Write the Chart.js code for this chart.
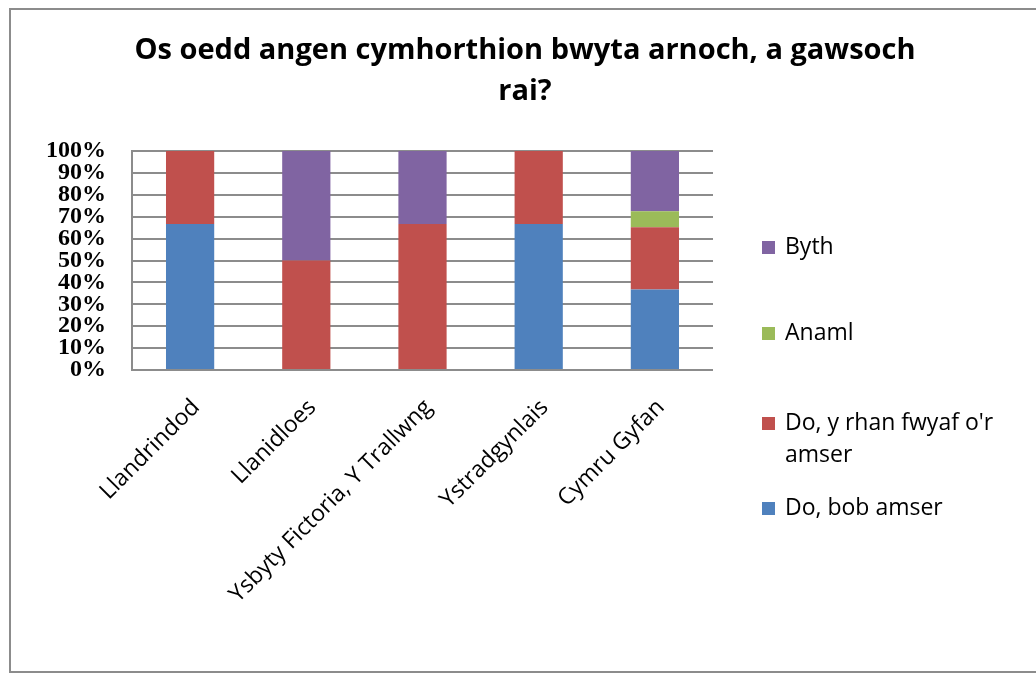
<!DOCTYPE html>
<html>
<head>
<meta charset="utf-8">
<script src="https://cdn.jsdelivr.net/npm/chart.js@4.4.1/dist/chart.umd.min.js"></script>
<style>
  html, body { margin: 0; padding: 0; background: #fff; }
  #wrap { position: relative; width: 1036px; height: 675px; }
  #frame { position: absolute; left: 9px; top: 8px; width: 1030px; height: 665px;
           border: 2px solid #8c8c8c; box-sizing: border-box; }
  canvas { position: absolute; left: 0; top: 0; }
</style>
</head>
<body>
<div id="wrap">
  <div id="frame"></div>
  <canvas id="myChart" width="1036" height="675"></canvas>
</div>
<script>
document.addEventListener("DOMContentLoaded", function () {
  // Categories and series (percent of each bar)
  var categories = [
    "Llandrindod",
    "Llanidloes",
    "Ysbyty Fictoria, Y Trallwng",
    "Ystradgynlais",
    "Cymru Gyfan",
  ];
  var bobAmser = [66.7, 0, 0, 66.7, 36.8];
  var rhanFwyaf = [33.3, 50, 66.7, 33.3, 28.4];
  var anaml = [0, 0, 0, 0, 7.3];
  var byth = [0, 50, 33.3, 0, 27.5];
  var yTicks = [0, 10, 20, 30, 40, 50, 60, 70, 80, 90, 100];
  var titleLines = ["Os oedd angen cymhorthion bwyta arnoch, a gawsoch", "rai?"];

  var data = {
    labels: categories,
    datasets: [
      { label: "Do, bob amser", data: bobAmser, backgroundColor: "#4F81BD" },
      { label: ["Do, y rhan fwyaf o'r", "amser"], data: rhanFwyaf, backgroundColor: "#C0504D" },
      { label: "Anaml", data: anaml, backgroundColor: "#9BBB59" },
      { label: "Byth", data: byth, backgroundColor: "#8064A2" },
    ],
  };
  data.datasets.forEach(function (ds) {
    ds.barPercentage = 0.415;
    ds.categoryPercentage = 1;
    ds.borderWidth = 0;
  });

  // Title centred on the whole frame, legend on the right (Excel style, reversed)
  var decorPlugin = {
    id: "decor",
    afterDraw: function (chart) {
      var ctx = chart.ctx;
      ctx.save();
      ctx.fillStyle = "#000";
      ctx.textAlign = "center";
      ctx.textBaseline = "middle";
      ctx.font = "bold 29px 'Open Sans'";
      ctx.fillText(titleLines[0], 525, 51);
      ctx.fillText(titleLines[1], 525, 92);

      var rows = [
        { i: 3, y: 247 },
        { i: 2, y: 333 },
        { i: 1, y: 423 },
        { i: 0, y: 508 },
      ];
      ctx.textAlign = "left";
      ctx.font = "23px 'Open Sans'";
      rows.forEach(function (r) {
        var ds = chart.data.datasets[r.i];
        ctx.fillStyle = ds.backgroundColor;
        ctx.fillRect(762, r.y - 6, 13, 13);
        ctx.fillStyle = "#000";
        var lines = Array.isArray(ds.label) ? ds.label : [ds.label];
        lines.forEach(function (t, k) {
          ctx.fillText(t, 785, r.y + k * 32);
        });
      });
      ctx.restore();
    },
  };

  var options = {
    responsive: false,
    animation: false,
    layout: { padding: { left: 0, right: 323, top: 151, bottom: 0 } },
    scales: {
      x: {
        stacked: true,
        grid: { display: false },
        border: { display: false },
        ticks: {
          color: "#000",
          font: { family: "Open Sans", size: 23 },
          maxRotation: 45,
          minRotation: 45,
          autoSkip: false,
          padding: 16,
          labelOffset: 6,
        },
        afterFit: function (scale) { scale.height = 305; },
      },
      y: {
        stacked: true,
        min: 0,
        max: 100,
        afterBuildTicks: function (scale) {
          scale.ticks = yTicks.map(function (v) { return { value: v }; });
        },
        grid: { color: "#8c8c8c", lineWidth: 2, drawTicks: false },
        border: { color: "#8c8c8c", width: 2 },
        ticks: {
          color: "#000",
          font: { family: "Liberation Serif", size: 24, weight: "bold" },
          autoSkip: false,
          padding: 26,
          callback: function (v) { return v + "%"; },
        },
        afterFit: function (scale) { scale.width = 132; },
      },
    },
    plugins: {
      legend: { display: false },
      tooltip: { enabled: false },
      title: { display: false },
    },
  };

  var ctx = document.getElementById("myChart").getContext("2d");
  var myChart = new Chart(ctx, {
    type: "bar",
    data: data,
    options: options,
    plugins: [decorPlugin],
  });
});
</script>
</body>
</html>
